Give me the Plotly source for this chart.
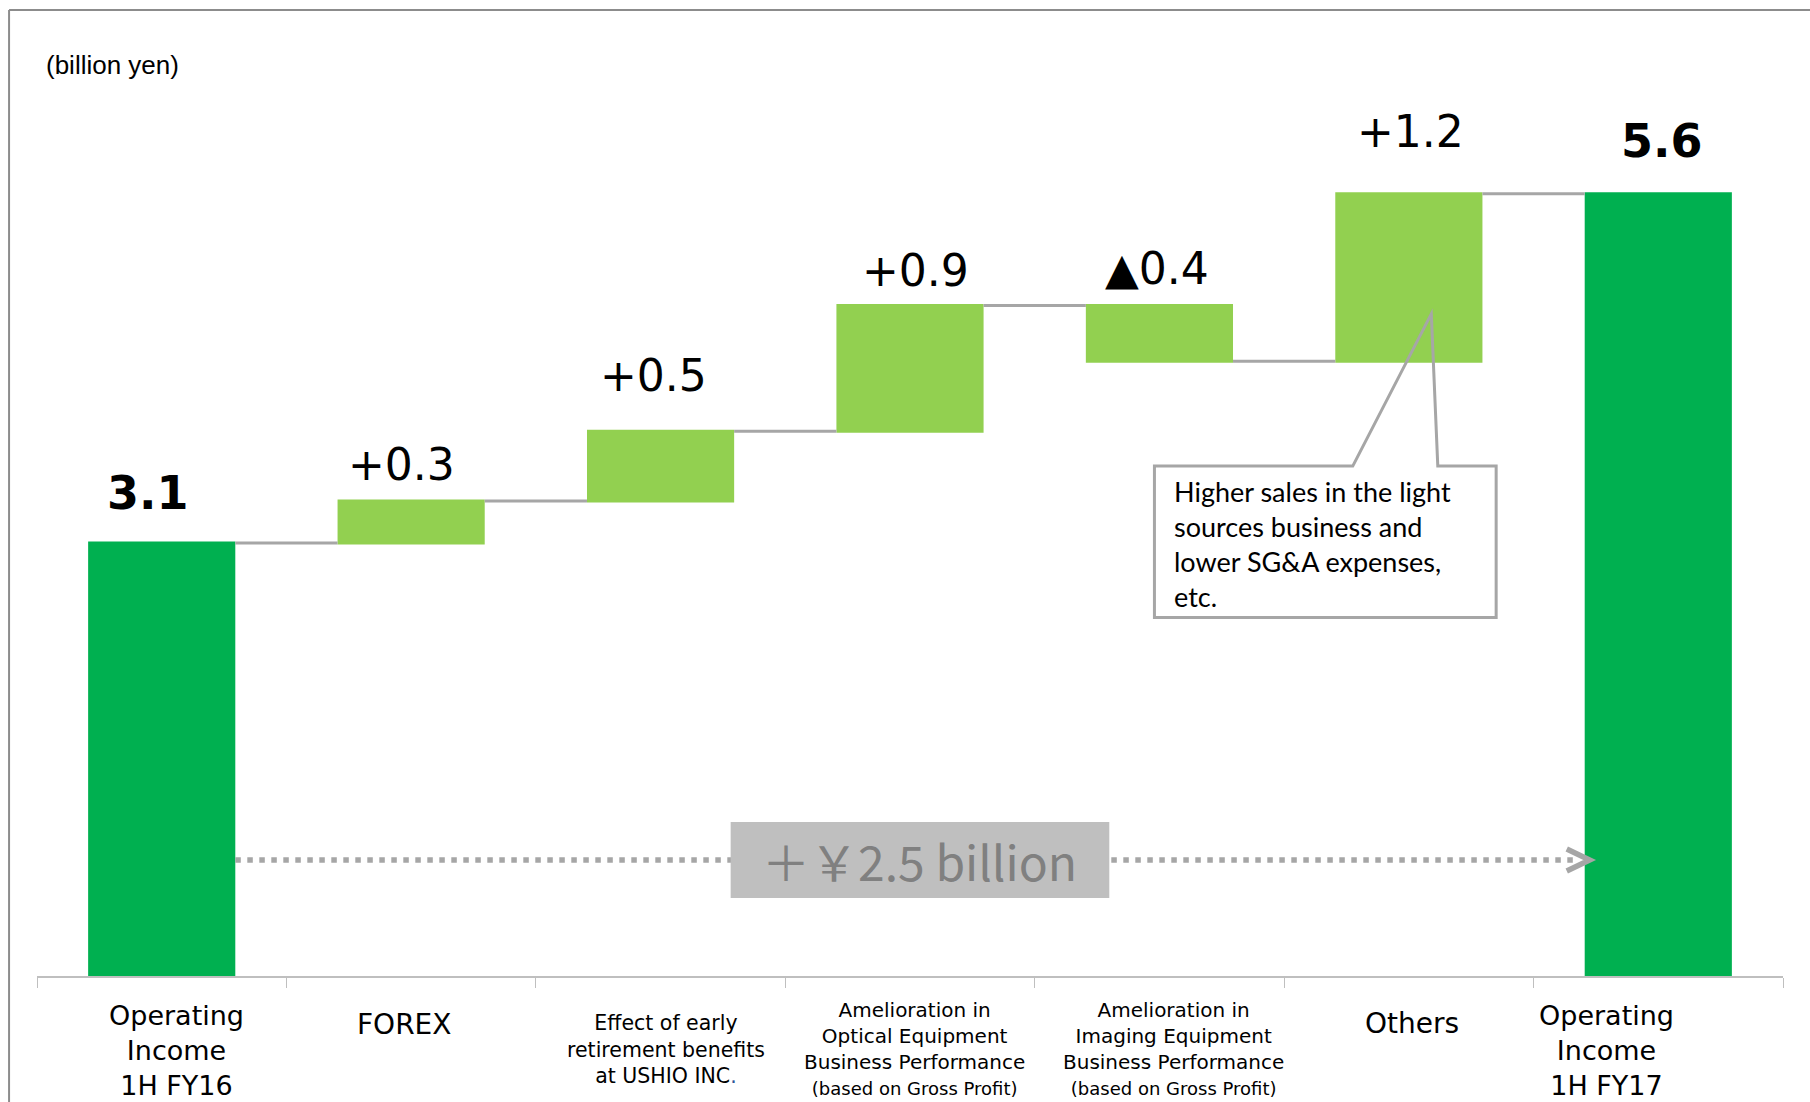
import plotly.graph_objects as go

# ---- data -------------------------------------------------------------
categories = [
    "Operating Income 1H FY16",
    "FOREX",
    "Effect of early retirement benefits at USHIO INC.",
    "Amelioration in Optical Equipment Business Performance",
    "Amelioration in Imaging Equipment Business Performance",
    "Others",
    "Operating Income 1H FY17",
]
values = [3.1, 0.3, 0.5, 0.9, -0.4, 1.2, 5.6]
measures = ["absolute", "relative", "relative", "relative", "relative", "relative", "total"]
value_labels = ["3.1", "+0.3", "+0.5", "+0.9", "▲0.4", "+1.2", "5.6"]
category_labels = [
    "Operating<br>Income<br>1H FY16",
    "FOREX",
    "Effect of early<br>retirement benefits<br>at USHIO INC<span style='color:#2F5597'>.</span>",
    "Amelioration in<br>Optical Equipment<br>Business Performance<br>"
    "<span style='font-size:18px'>(based on Gross Profit)</span>",
    "Amelioration in<br>Imaging Equipment<br>Business Performance<br>"
    "<span style='font-size:18px'>(based on Gross Profit)</span>",
    "Others",
    "Operating<br>Income<br>1H FY17",
]
unit_label = "(billion yen)"
total_change_label = "＋￥2.5 billion"
callout_text = "Higher sales in the light<br>sources business and<br>lower SG&amp;A expenses,<br>etc."

# ---- style ------------------------------------------------------------
TOTAL_GREEN = "#00B050"
STEP_GREEN = "#92D050"
GREY_LINE = "#A6A6A6"
BAR_WIDTH = 0.59
Y_MAX = 6.915

# label placement tweaks (pixels): value labels above each bar
value_dx = [-14, -10, -7, 5, -2, 2, 4]
value_dy = [50, 37, 56, 35, 37, 62, 53]
value_size = [46, 44, 44, 44, 44, 44, 46]
# category labels under the axis
cat_dx = [15, -7, 5, 4, 14, 3, -52]
cat_dy = [-22, -30, -33, -20, -20, -29, -22]
cat_size = [27, 28, 20.5, 20, 20, 28, 27]

xpos = list(range(len(categories)))

# running tops of each bar for placing the value labels
tops = []
running = 0.0
for m, v in zip(measures, values):
    if m == "absolute":
        running = v
        tops.append(v)
    elif m == "relative":
        tops.append(max(running, running + v))
        running += v
    else:
        tops.append(running)

fig = go.Figure()
fig.add_trace(go.Waterfall(
    x=xpos,
    y=values,
    measure=measures,
    width=BAR_WIDTH,
    textposition="none",
    hoverinfo="skip",
    increasing=dict(marker=dict(color=STEP_GREEN, line=dict(width=0))),
    decreasing=dict(marker=dict(color=STEP_GREEN, line=dict(width=0))),
    totals=dict(marker=dict(color=TOTAL_GREEN, line=dict(width=0))),
    connector=dict(mode="between", line=dict(color=GREY_LINE, width=3)),
))

annotations = []
for i, lab in enumerate(value_labels):
    txt = f"<b>{lab}</b>" if measures[i] != "relative" else lab
    annotations.append(dict(
        x=xpos[i], y=tops[i], xref="x", yref="y", text=txt, showarrow=False,
        xshift=value_dx[i], yshift=value_dy[i], yanchor="middle", xanchor="center",
        font=dict(family="DejaVu Sans", size=value_size[i], color="#000000"),
    ))

for i, lab in enumerate(category_labels):
    annotations.append(dict(
        x=xpos[i], y=0, xref="x", yref="paper", text=lab, showarrow=False,
        xshift=cat_dx[i], yshift=cat_dy[i], yanchor="top", xanchor="center", align="center",
        font=dict(family="DejaVu Sans", size=cat_size[i], color="#000000"),
    ))

annotations.append(dict(
    x=0.004, y=1.0, xref="paper", yref="paper", text=unit_label, showarrow=False,
    xanchor="left", yanchor="middle", yshift=-55,
    font=dict(family="Liberation Sans", size=26, color="#000000"),
))

# total change banner across the bottom
arrow_y = 0.83
box_x0, box_x1 = 2.281, 3.799
box_y0, box_y1 = 0.558, 1.102
annotations.append(dict(
    x=(box_x0 + box_x1) / 2, y=(box_y0 + box_y1) / 2, xref="x", yref="y",
    text=total_change_label, showarrow=False, xanchor="center", yanchor="middle",
    font=dict(family="Noto Sans CJK JP", size=48, color="#808080"),
))

# callout describing the "Others" step
co_x0, co_x1 = 3.98, 5.35
co_y0, co_y1 = 2.566, 3.65
tip_x, tip_y = 5.09, 4.74
annotations.append(dict(
    x=co_x0, y=co_y1, xref="x", yref="y", text=callout_text, showarrow=False,
    xanchor="left", yanchor="top", align="left", xshift=18, yshift=-7,
    font=dict(family="Lato", size=27, color="#000000"),
))

arrow_end = xpos[-1] - BAR_WIDTH / 2
shapes = [
    # dotted arrow from the first total to the last
    dict(type="line", xref="x", yref="y", x0=xpos[0] + BAR_WIDTH / 2, x1=arrow_end - 0.03,
         y0=arrow_y, y1=arrow_y, line=dict(color=GREY_LINE, width=5.5, dash="5.5px,6.5px")),
    dict(type="path", xref="x", yref="y",
         path=f"M {arrow_end - 0.072},{arrow_y + 0.079} "
              f"L {arrow_end + 0.02},{arrow_y} "
              f"L {arrow_end - 0.072},{arrow_y - 0.079}",
         line=dict(color=GREY_LINE, width=5.5)),
    dict(type="rect", xref="x", yref="y", x0=box_x0, x1=box_x1, y0=box_y0, y1=box_y1,
         fillcolor="#BFBFBF", line=dict(width=0)),
    # callout box with pointer
    dict(type="path", xref="x", yref="y",
         path=f"M 4.775,{co_y1} L {tip_x},{tip_y} L 5.116,{co_y1} L {co_x1},{co_y1} "
              f"L {co_x1},{co_y0} L {co_x0},{co_y0} L {co_x0},{co_y1} Z",
         line=dict(color=GREY_LINE, width=3), fillcolor="rgba(0,0,0,0)"),
    # slide frame
    dict(type="line", xref="paper", yref="paper", x0=-0.016, x1=1.02, y0=1.0, y1=1.0,
         line=dict(color="#8C8C8C", width=2)),
    dict(type="line", xref="paper", yref="paper", x0=-0.016, x1=-0.016, y0=1.0, y1=-0.14,
         line=dict(color="#8C8C8C", width=2)),
]

fig.update_layout(
    width=1810, height=1102,
    margin=dict(l=37, r=27, t=10, b=126, pad=0),
    plot_bgcolor="white", paper_bgcolor="white",
    showlegend=False,
    annotations=annotations,
    shapes=shapes,
    xaxis=dict(
        range=[-0.5, len(categories) - 0.5],
        tickvals=[i - 0.5 for i in range(len(categories) + 1)],
        showticklabels=False, ticks="outside", ticklen=10, tickcolor="#BFBFBF", tickwidth=1,
        showline=True, linecolor="#BFBFBF", linewidth=1.5,
        showgrid=False, zeroline=False, fixedrange=True,
    ),
    yaxis=dict(range=[0, Y_MAX], visible=False, fixedrange=True),
)

fig.write_html("out.html", config={"displayModeBar": False})
